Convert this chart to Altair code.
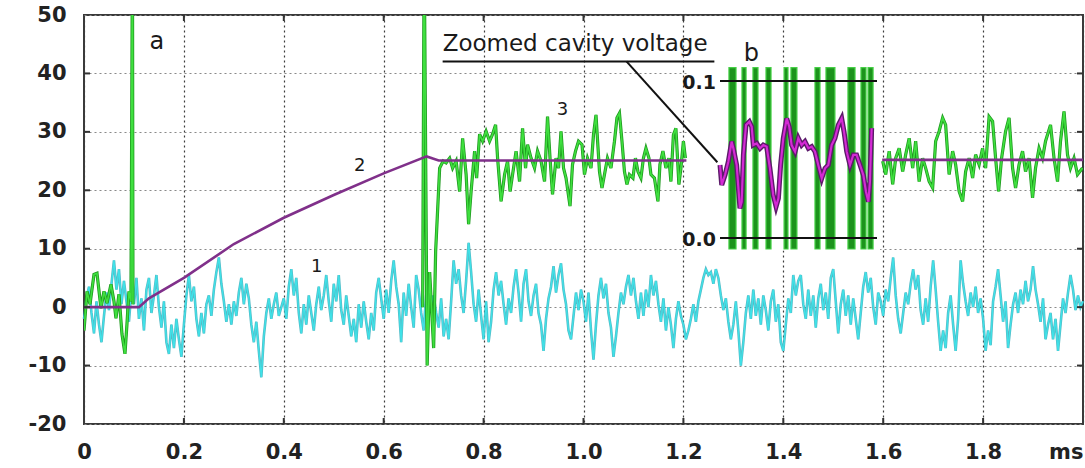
import altair as alt
import pandas as pd

FONT = "DejaVu Sans"
PLOT_W, PLOT_H = 999, 409

# ---------------- axes ----------------
X_TICKS = [0, 0.2, 0.4, 0.6, 0.8, 1.0, 1.2, 1.4, 1.6, 1.8, 2.0]
Y_TICKS = [-20, -10, 0, 10, 20, 30, 40, 50]

# ---------------- trace 1 (cyan), sampled every 0.005 ms ----------------
CYAN_DT = 0.005
CYAN_V = [
    -2.0, 1.5, 3.5, -1.0, -4.5, 1.0, -3.0, -6.0, -1.5, 2.5, -0.5, 4.0, 8.0, 3.0, 6.5, 0.5, 4.5, 1.0, -2.5, 3.0,
    0.5, 5.0, -2.0, 1.5, -4.0, 3.0, 5.0, -1.0, 2.0, 5.5, 0.0, -3.5, 1.0, -6.0, -8.0, -3.0, -7.0, -2.0, -5.5, -8.5,
    -3.0, 2.0, 5.5, 1.0, 3.5, -2.0, -5.0, -1.0, -4.5, 0.5, 2.0, -1.5, 3.0, 6.0, 8.5, 4.0, 1.0, -2.5, 0.5, -3.0,
    1.0, -1.5, 2.5, 5.0, 0.5, 4.0, 1.5, -3.0, -6.0, -2.5, -7.5, -12.0, -5.0, -1.0, 1.5, -2.0, 0.5, 2.5, -1.5, 0.0,
    1.5, -2.0, 3.5, 6.5, 2.0, 5.0, -1.0, -4.5, 0.5, -3.0, 2.0, -1.0, -4.0, 0.5, 3.5, -0.5, 2.0, 5.5, 1.0, -2.5,
    4.0, 1.0, 5.5, -0.5, -3.0, 2.0, -1.5, -5.0, -2.0, -6.0, 0.5, -3.5, 1.0, -2.5, -5.5, -1.0, -4.0, 2.5, 5.0, 1.5,
    -2.0, 3.0, -1.0, 4.5, 8.0, 3.5, 0.5, -6.0, 2.5, -1.5, 4.0, 0.0, -3.5, 5.5, 3.0, -1.0, -4.0, 2.0, 5.0, 0.5,
    2.0, -1.0, -3.5, 1.5, -5.0, -2.0, -5.5, 1.0, 8.0, 4.0, 6.5, 2.0, -1.0, 4.5, 11.0, 6.0, 0.5, -2.5, 3.0, -1.5,
    -5.5, 1.0, -6.0, -2.5, 3.0, 6.0, 2.0, 4.5, 0.5, -3.0, 1.5, -1.0, 3.5, 6.5, 2.5, -2.5, 4.0, 6.5, 1.0, -1.5,
    2.0, 4.0, -1.0, -3.0, -7.5, -2.0, 1.5, 3.5, 7.0, 2.5, 5.5, 7.5, 3.0, 0.5, -4.0, -5.5, -1.5, 2.5, -0.5, 3.0,
    1.0, -2.5, 2.5, -4.0, -9.0, -3.0, 2.0, 5.0, 1.5, 4.0, -1.0, -3.5, -8.5, -5.0, -1.0, 2.5, 0.5, 3.5, 5.5, 2.0,
    5.0, 1.0, -2.0, 2.5, -1.5, 3.0, 0.0, 5.5, 2.0, 4.5, 0.5, -2.5, 1.5, -4.0, 0.0, -3.0, -7.0, -2.0, 1.0, -1.5,
    -3.0, -5.5, -4.0, -2.0, 0.5, -2.5, 1.0, 3.0, 5.0, 6.5, 5.5, 6.0, 4.0, 6.5, 5.0, 2.0, -0.5, 1.5, -2.5, -5.5,
    -3.0, 1.0, -4.0, -10.0, -6.0, -1.0, 2.0, -2.0, 3.0, -1.5, 1.5, -3.0, 2.0, -0.5, -4.0, 1.0, 3.0, -2.5, 0.5, -6.0,
    -7.5, -3.0, 1.5, -1.0, 5.5, 2.0, 4.5, 5.5, 0.5, -2.0, 3.0, -1.5, 2.0, -3.5, 1.5, 4.0, -0.5, 2.5, -2.0, 5.0,
    6.5, 1.0, -4.5, 0.5, 3.0, -1.5, 2.0, -3.0, 1.5, -2.0, -5.5, -1.0, 3.5, 6.0, 2.5, 5.0, 0.0, -3.0, 2.5, 1.0,
    -1.5, 3.0, 1.0, 5.0, 8.5, 2.0, -2.0, -4.5, -1.0, 2.5, 0.5, 4.0, 6.5, 3.0, 5.5, -0.5, -3.0, 1.5, -2.5, 3.5,
    8.0, 3.0, -2.5, -7.5, -4.0, -7.0, -1.0, 2.0, -3.0, -7.5, -2.0, 8.0, 4.0, 1.0, -1.5, 2.5, 0.0, 3.5, -1.0, 1.5,
    -2.0, -7.5, -4.0, -6.5, 1.0, 3.5, 6.5, 2.0, -2.5, 1.0, -7.0, -3.0, 0.5, 2.5, -1.0, 3.0, 0.5, 4.5, 1.0, 3.0,
    7.0, 3.0, 0.5, -2.5, 1.5, -5.5, -3.0, -1.0, -5.5, -2.0, -7.5, -3.0, 1.5, -1.0, 2.5, 5.5, 3.0, -0.5, 2.0, 0.0,
    1.0,
]

# ---------------- trace 3 (green) ----------------
GA_T = [0.000, 0.006, 0.012, 0.020, 0.026, 0.034, 0.040, 0.046, 0.054, 0.060, 0.064, 0.070, 0.076, 0.082,
        0.086, 0.090, 0.094, 0.097, 0.098]
GA_V = [-4.0, 2.7, 0.5, 5.6, 5.8, -0.2, 2.7, 0.7, 3.9, 1.0, -1.9, 2.2, -4.6, -8.0,
        -2.9, 2.7, 1.0, 62.0, 0.5]

GB_T = [0.678, 0.681, 0.687, 0.692, 0.700, 0.704,
        0.712, 0.719, 0.725, 0.732, 0.738, 0.745, 0.752, 0.758, 0.765, 0.770,
        0.775, 0.782, 0.786, 0.792, 0.798, 0.805, 0.812, 0.818, 0.824, 0.828,
        0.835, 0.842, 0.848, 0.853, 0.858, 0.865, 0.872, 0.878, 0.884, 0.888,
        0.895, 0.902, 0.908, 0.915, 0.922, 0.928, 0.933, 0.938, 0.945, 0.950,
        0.955, 0.960, 0.965, 0.973, 0.978, 0.984, 0.990, 0.997, 1.002, 1.008,
        1.015, 1.020, 1.025, 1.032, 1.037, 1.042, 1.048, 1.055, 1.062, 1.067,
        1.072, 1.077, 1.082, 1.087, 1.092, 1.099, 1.104, 1.109, 1.115, 1.120,
        1.125, 1.131, 1.135, 1.142, 1.149, 1.153, 1.159, 1.165, 1.171, 1.175,
        1.180, 1.185, 1.191, 1.195, 1.200, 1.204]
GB_V = [0.0, 62.0, -10.0, 6.0, -7.0, 9.6,
        23.8, 25.0, 24.7, 25.5, 23.8, 25.0, 19.8, 28.9, 22.7, 14.2,
        19.8, 26.7, 22.1, 29.6, 28.4, 30.1, 28.4, 29.6, 31.2, 25.5,
        18.1, 22.7, 25.0, 19.8, 22.7, 26.7, 21.5, 30.6, 23.8, 27.8,
        25.5, 23.8, 26.7, 25.0, 21.5, 32.6, 25.5, 19.3, 25.5, 23.8,
        30.1, 23.8, 22.1, 17.3, 24.4, 26.7, 28.4, 27.8, 22.7, 25.5,
        23.8, 29.5, 32.9, 23.2, 20.4, 22.7, 25.5, 23.8, 28.4, 32.4,
        33.2, 28.4, 23.2, 21.0, 22.7, 22.1, 25.5, 23.2, 22.1, 25.5,
        27.2, 25.5, 22.7, 22.1, 18.1, 24.4, 26.7, 23.8, 25.5, 21.5,
        29.5, 30.6, 21.0, 23.8, 28.4, 25.5]

GC_T = [1.599, 1.605, 1.612, 1.619, 1.625, 1.632, 1.639, 1.645, 1.652, 1.659,
        1.665, 1.672, 1.679, 1.685, 1.692, 1.699, 1.705, 1.712, 1.719, 1.725,
        1.732, 1.739, 1.745, 1.752, 1.759, 1.765, 1.772, 1.779, 1.785, 1.792,
        1.799, 1.805, 1.812, 1.819, 1.825, 1.831, 1.837, 1.845, 1.852, 1.859,
        1.865, 1.872, 1.879, 1.885, 1.892, 1.899, 1.905, 1.912, 1.919, 1.925,
        1.935, 1.942, 1.949, 1.955, 1.962, 1.969, 1.975, 1.982, 1.989, 1.999]
GC_V = [25.0, 22.7, 26.7, 21.0, 25.5, 27.2, 23.2, 26.1, 28.9, 23.8,
        28.4, 21.5, 25.5, 23.8, 21.5, 20.4, 28.4, 30.1, 32.4, 31.2,
        22.7, 26.7, 24.4, 19.8, 18.1, 23.2, 25.5, 22.1, 26.1, 24.4,
        27.2, 23.8, 32.6, 31.8, 25.5, 19.8, 25.5, 30.1, 32.4, 23.8,
        20.4, 24.4, 26.7, 23.2, 25.5, 18.7, 23.8, 27.2, 25.5, 28.4,
        31.2, 25.5, 21.5, 28.4, 33.5, 26.1, 23.8, 25.5, 22.7, 23.8]

# ---------------- trace 2 (magenta) ----------------
M1_T = [0.0, 0.11, 0.13, 0.2, 0.3, 0.4, 0.5, 0.6, 0.686, 0.71, 1.206]
M1_V = [0.0, 0.0, 1.5, 5.0, 10.8, 15.3, 19.2, 22.9, 25.8, 25.1, 25.1]
M2_T = [1.598, 2.0]
M2_V = [25.2, 25.2]

# ---------------- inset b (zoomed cavity voltage) ----------------
IM_X = [0, 1.1, 3.2, 5.3, 7.4, 8.5, 10.6, 12.7, 13.8, 14.9,
        16.6, 18.7, 20.2, 21.2, 23.4, 25.5, 27.6, 29.7, 31.8, 33.9,
        35.7, 37.2, 38.6, 40.3, 42.5, 44.1, 45.6, 47.8, 49.9, 52.0,
        54.1, 56.3, 58.4, 60.5, 62.6, 64.8, 66.9, 69.0, 71.1, 73.2,
        75.4, 77.5, 79.0, 80.7, 82.8, 84.9, 87.0, 89.2, 91.3, 93.0,
        94.5, 95.5, 96.6]
IM_V = [0.0465, 0.0338, 0.0401, 0.0486, 0.0614, 0.0571, 0.0465, 0.0189, 0.0231, 0.0529,
        0.0720, 0.0741, 0.0709, 0.0592, 0.0603, 0.0571, 0.0592, 0.0582, 0.0444, 0.0274,
        0.0200, 0.0253, 0.0465, 0.0635, 0.0762, 0.0709, 0.0592, 0.0550, 0.0635, 0.0592,
        0.0614, 0.0571, 0.0582, 0.0550, 0.0465, 0.0380, 0.0444, 0.0465, 0.0592, 0.0635,
        0.0720, 0.0762, 0.0677, 0.0550, 0.0465, 0.0529, 0.0529, 0.0465, 0.0401, 0.0295,
        0.0231, 0.0359, 0.0699]
IB_X0 = [5.7, 14.0, 21.0, 29.3, 40.8, 45.2, 60.5, 67.5, 81.5, 89.8, 94.3]
IB_X1 = [10.2, 16.6, 24.2, 32.5, 43.3, 49.0, 63.7, 73.2, 86.0, 93.0, 97.5]
IB_LOW, IB_HIGH = -0.007, 0.1085
INSET_TICKS = [0.0, 0.1]
INSET_LABELS = ["0.0", "0.1"]
INSET_X_DOMAIN = [0, 100]
INSET_BG_X = [-20, 102]
INSET_BG_Y = [-0.008, 0.110]

# ---------------- annotations ----------------
ANN_LABELS = ["a", "b"]
ANN_T = [0.146, 1.336]
ANN_V = [45.3, 43.4]
NUM_LABELS = ["1", "2", "3"]
NUM_T = [0.466, 0.552, 0.958]
NUM_V = [6.8, 24.1, 33.8]
TITLE_TEXT = "Zoomed cavity voltage"
TITLE_T, TITLE_V = 0.718, 43.8
UNDERLINE_T = [0.718, 1.262]
UNDERLINE_V = 42.05
LEADER_T = [1.086, 1.268]
LEADER_V = [42.05, 24.8]

# ---------------- layout (pixels) ----------------
INSET_RANGE_X = [636, 793]
INSET_RANGE_Y = [223, 66]

# ================= build =================
cyan_df = pd.DataFrame({"t": [round(i * CYAN_DT, 3) for i in range(len(CYAN_V))], "v": CYAN_V})
green_df = pd.concat([
    pd.DataFrame({"t": GA_T, "v": GA_V, "seg": "a"}),
    pd.DataFrame({"t": GB_T, "v": GB_V, "seg": "b"}),
    pd.DataFrame({"t": GC_T, "v": GC_V, "seg": "c"}),
], ignore_index=True)
mag_df = pd.concat([
    pd.DataFrame({"t": M1_T, "v": M1_V, "seg": "a"}),
    pd.DataFrame({"t": M2_T, "v": M2_V, "seg": "b"}),
], ignore_index=True)

X_SCALE = alt.Scale(domain=[0, 2.0], nice=False, zero=False)
Y_SCALE = alt.Scale(domain=[-20, 50], nice=False, zero=False)

LABEL_STYLE = dict(labelFont=FONT, labelFontSize=21, labelFontWeight="bold", labelColor="#222222")

AX_X = alt.Axis(
    values=X_TICKS,
    labelExpr="datum.value == 0 ? '0' : (datum.value > 1.95 ? 'ms' : format(datum.value, '.1f'))",
    labelAlign={"condition": {"test": "datum.value > 1.95", "value": "right"}, "value": "center"},
    labelFlush=False, labelOverlap=False, labelPadding=17, tickSize=0, domain=False,
    grid=True, gridColor="#3c3c3c", gridDash=[2, 3], gridWidth=1.2, title=None, **LABEL_STYLE,
)
AX_Y = alt.Axis(
    values=Y_TICKS,
    labelExpr="datum.value < 0 ? '-' + abs(datum.value) : '' + datum.value",
    labelPadding=18, tickSize=0, domain=False,
    grid=True, gridColor="#8a8a8a", gridDash=[2, 3], gridWidth=1.2, title=None, **LABEL_STYLE,
)


def mx(field="t"):
    return alt.X(f"{field}:Q", scale=X_SCALE, axis=AX_X)


def my(field="v"):
    return alt.Y(f"{field}:Q", scale=Y_SCALE, axis=AX_Y)


cyan_under = alt.Chart(cyan_df).mark_line(color="#2aa9b8", strokeWidth=2.6, opacity=0.8).encode(x=mx(), y=my())
cyan = alt.Chart(cyan_df).mark_line(color="#3fe2e8", strokeWidth=1.3).encode(x=mx(), y=my())
green_under = alt.Chart(green_df).mark_line(color="#1f9a1f", strokeWidth=3.2, clip=True).encode(
    x=mx(), y=my(), detail="seg:N")
green = alt.Chart(green_df).mark_line(color="#3fe03f", strokeWidth=1.6, clip=True).encode(
    x=mx(), y=my(), detail="seg:N")
magenta = alt.Chart(mag_df).mark_line(color="#80308a", strokeWidth=2.6).encode(
    x=mx(), y=my(), detail="seg:N")

ytick_df = pd.DataFrame({"v": Y_TICKS[1:-1]})
xtick_df = pd.DataFrame({"t": X_TICKS[1:-1]})
tick_style = dict(color="#333333", strokeWidth=2)
ticks = [
    alt.Chart(ytick_df).mark_rule(**tick_style).encode(y=my(), x=alt.value(0), x2=alt.value(6)),
    alt.Chart(ytick_df).mark_rule(**tick_style).encode(y=my(), x=alt.value(PLOT_W - 6), x2=alt.value(PLOT_W)),
    alt.Chart(xtick_df).mark_rule(**tick_style).encode(x=mx(), y=alt.value(PLOT_H - 6), y2=alt.value(PLOT_H)),
    alt.Chart(xtick_df).mark_rule(**tick_style).encode(x=mx(), y=alt.value(0), y2=alt.value(6)),
]

main = alt.layer(cyan_under, cyan, green_under, green, magenta, *ticks)

# ---- inset ----
IX = alt.Scale(domain=INSET_X_DOMAIN, range=INSET_RANGE_X, nice=False, zero=False)
IY = alt.Scale(domain=[0, 0.1], range=INSET_RANGE_Y, nice=False, zero=False)


def ix(field):
    return alt.X(f"{field}:Q", scale=IX, axis=None)


def iy(field):
    return alt.Y(f"{field}:Q", scale=IY, axis=None)


bg_df = pd.DataFrame({"x0": [INSET_BG_X[0]], "x1": [INSET_BG_X[1]], "y0": [INSET_BG_Y[0]], "y1": [INSET_BG_Y[1]]})
bars_df = pd.DataFrame({"x0": IB_X0, "x1": IB_X1, "y0": [IB_LOW] * len(IB_X0), "y1": [IB_HIGH] * len(IB_X0)})
irule_df = pd.DataFrame({"x0": [INSET_X_DOMAIN[0]] * 2, "x1": [INSET_X_DOMAIN[1]] * 2, "y": INSET_TICKS,
                         "lab": INSET_LABELS})
imag_df = pd.DataFrame({"x": IM_X, "v": IM_V})

inset = alt.layer(
    alt.Chart(bg_df).mark_rect(color="white").encode(x=ix("x0"), x2="x1:Q", y=iy("y0"), y2="y1:Q"),
    alt.Chart(bars_df).mark_rect(fill="#1c931c", stroke="#45d045", strokeWidth=1.2).encode(
        x=ix("x0"), x2="x1:Q", y=iy("y0"), y2="y1:Q"),
    alt.Chart(imag_df).mark_line(color="#5c1a6a", strokeWidth=5).encode(x=ix("x"), y=iy("v")),
    alt.Chart(imag_df).mark_line(color="#d42ad4", strokeWidth=2.2).encode(x=ix("x"), y=iy("v")),
    alt.Chart(irule_df).mark_rule(color="#111111", strokeWidth=2).encode(x=ix("x0"), x2="x1:Q", y=iy("y")),
    alt.Chart(irule_df).mark_text(align="right", baseline="middle", dx=-4, dy=2, font=FONT, fontSize=19,
                                  fontWeight="bold", color="#1a1a1a").encode(x=ix("x0"), y=iy("y"), text="lab:N"),
)

# ---- annotations (same domains as the main axes) ----
AXS = alt.Scale(domain=[0, 2.0], nice=False, zero=False)
AYS = alt.Scale(domain=[-20, 50], nice=False, zero=False)


def ax(field):
    return alt.X(f"{field}:Q", scale=AXS, axis=None)


def ay(field):
    return alt.Y(f"{field}:Q", scale=AYS, axis=None)


letters_df = pd.DataFrame({"t": ANN_T, "v": ANN_V, "lab": ANN_LABELS})
nums_df = pd.DataFrame({"t": NUM_T, "v": NUM_V, "lab": NUM_LABELS})
title_df = pd.DataFrame({"t": [TITLE_T], "v": [TITLE_V], "lab": [TITLE_TEXT]})
under_df = pd.DataFrame({"t0": [UNDERLINE_T[0]], "t1": [UNDERLINE_T[1]], "v": [UNDERLINE_V]})
leader_df = pd.DataFrame({"t0": [LEADER_T[0]], "t1": [LEADER_T[1]], "v0": [LEADER_V[0]], "v1": [LEADER_V[1]]})

annot = alt.layer(
    alt.Chart(under_df).mark_rule(color="#111111", strokeWidth=2).encode(x=ax("t0"), x2="t1:Q", y=ay("v")),
    alt.Chart(leader_df).mark_rule(color="#111111", strokeWidth=2).encode(
        x=ax("t0"), x2="t1:Q", y=ay("v0"), y2="v1:Q"),
    alt.Chart(title_df).mark_text(align="left", baseline="alphabetic", font=FONT, fontSize=23,
                                  color="#1a1a1a").encode(x=ax("t"), y=ay("v"), text="lab:N"),
    alt.Chart(letters_df).mark_text(align="center", baseline="middle", font=FONT, fontSize=24,
                                    color="#1a1a1a").encode(x=ax("t"), y=ay("v"), text="lab:N"),
    alt.Chart(nums_df).mark_text(align="center", baseline="middle", font=FONT, fontSize=18,
                                 color="#1a1a1a").encode(x=ax("t"), y=ay("v"), text="lab:N"),
)

chart = alt.layer(main, inset, annot).resolve_scale(
    x="independent", y="independent"
).properties(
    width=PLOT_W, height=PLOT_H,
    autosize=alt.AutoSizeParams(type="none"),
    padding={"left": 84, "top": 15, "right": 2, "bottom": 44},
    background="white",
).configure_view(stroke="#3a3a3a", strokeWidth=2)

chart.save("out.html", embed_options={"renderer": "svg", "actions": False})
